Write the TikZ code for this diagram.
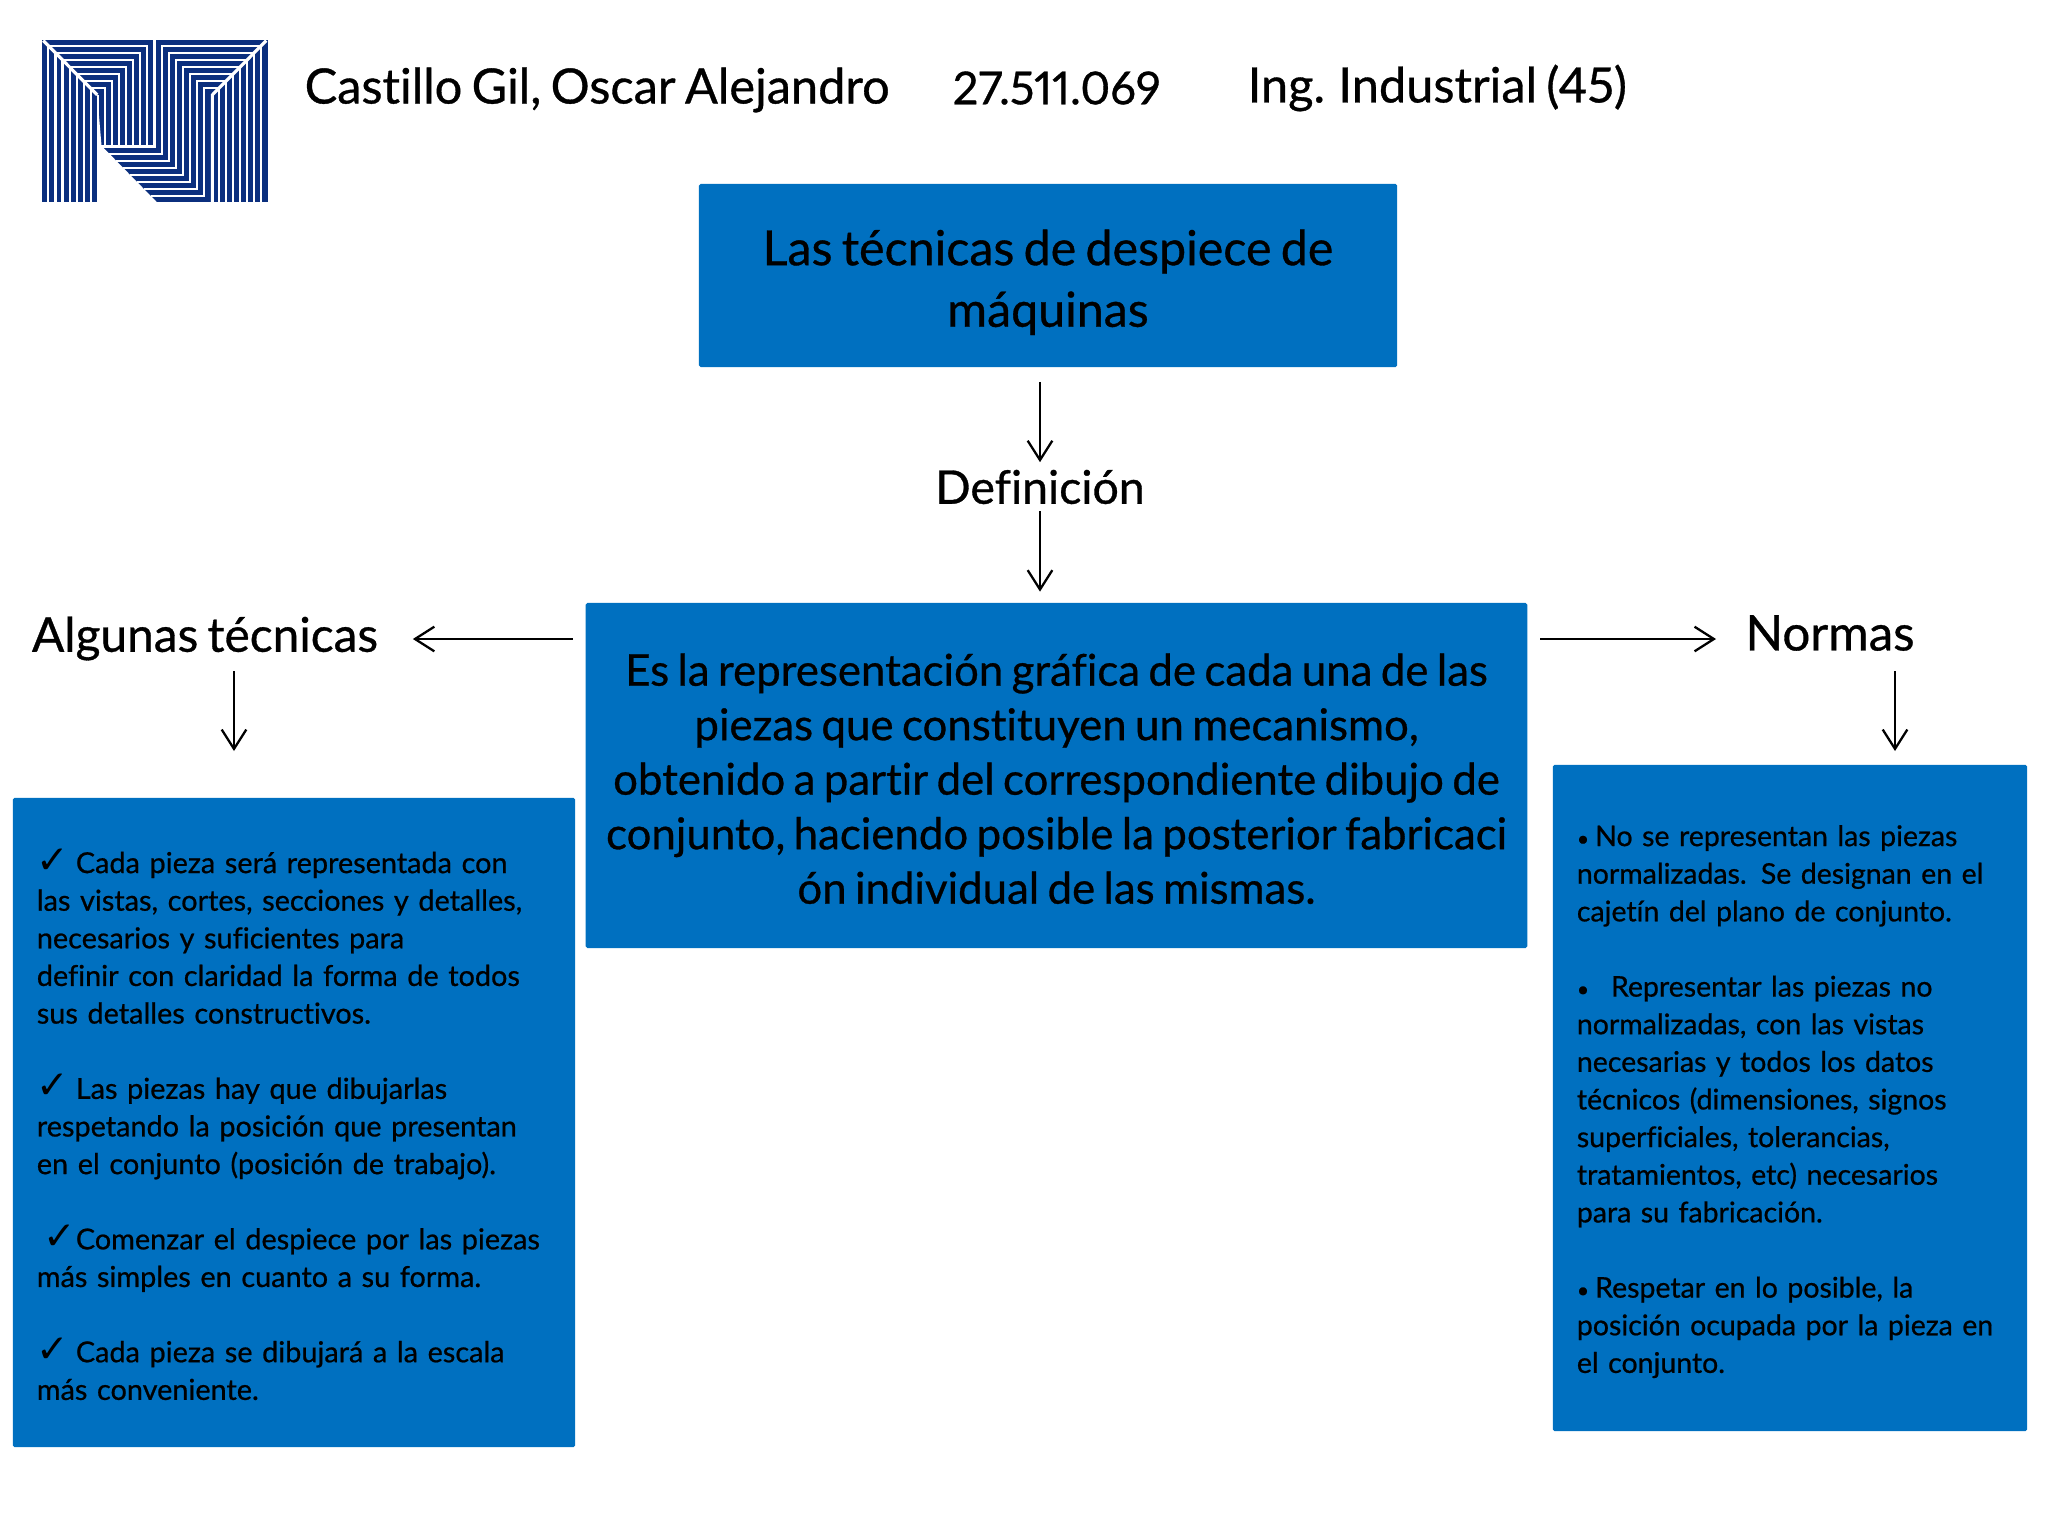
\documentclass[tikz,border=0pt]{standalone}
\usepackage{fontspec}
\setmainfont{Lato}[WordSpace=0.75,Ligatures=NoCommon,Numbers=Proportional,RawFeature={embolden=0.7}]
\newfontfamily\ckfont{DejaVu Sans}[Scale=1.35]
\newcommand{\ck}{{\ckfont\char"2713}}
\newcommand{\bu}[1]{\makebox[#1][l]{\fontsize{6}{6}\selectfont •}}
\usetikzlibrary{arrows.meta,positioning,calc}
\definecolor{boxblue}{HTML}{0070C0}
\definecolor{logoblue}{HTML}{0B2F7E}
\begin{document}
\begin{tikzpicture}[x=0.01cm,y=-0.01cm,>={Straight Barb[length=5.5pt,width=7pt]},
b/.style={fill=boxblue,draw=none,rounded corners=0.5pt,inner sep=0pt,align=center},
h/.style={font=\fontsize{13.85}{16}\selectfont,anchor=west,inner sep=0pt},
l/.style={font=\fontsize{13.6}{17}\selectfont,inner sep=0pt},
a/.style={->,line width=0.65pt},
s/.style={font=\fontsize{8.2}{10.7}\selectfont,align=left}]
\useasboundingbox (0,0) rectangle (2048,1536);
\begin{scope}[shift={(20,20)},x=0.003333cm,y=-0.003333cm]
\fill[logoblue] (66,60) rectangle (745,548);
\fill[white] (232,225)--(245,378)--(412,548)--(232,548)--cycle;
\fill[white] (232,225) rectangle (238,548);
\draw[white,line width=0.9pt] (70,62)--(232,225);
\draw[white,line width=0.9pt] (740,62)--(578,225)--(578,548);
\draw[white,line width=0.9pt] (404,60)--(404,380)--(240,380);
\foreach \i in {0,...,6}{
\draw[white,line width=0.65pt] ({85+21.5*\i},548)--({85+21.5*\i},{78+21*\i})--({382-21.2*\i},{78+21*\i})--({382-21.2*\i},378);
\draw[white,line width=0.65pt] ({725-21.3*\i},548)--({725-21.3*\i},{78+21*\i})--({426+21.3*\i},{78+21*\i})--({426+21.3*\i},{403+21*\i})--({268+21*\i},{403+21*\i});
}
\end{scope}
\node[h] (name) at (304,90) {Castillo Gil, Oscar Alejandro};
\node[h,font=\fontsize{12.9}{16}\selectfont] (dni) at (952,88) {27.511.069};
\node[h] (career) at (1247,88) {Ing. Industrial (45)};
\node[b,minimum width=6.98cm,minimum height=1.83cm,font=\fontsize{13.75}{17.5}\selectfont] (title) at (1048,275.5) {\rule{0pt}{14pt}Las técnicas de despiece de\\máquinas};
\node[l,font=\fontsize{13.2}{17}\selectfont] (def) at (1040,487) {Definición};
\node[b,minimum width=9.41cm,minimum height=3.45cm,font=\fontsize{12.45}{15.5}\selectfont] (main) at (1056.5,775.5) {\rule{0pt}{11pt}Es la representación gráfica de cada una de las\\piezas que constituyen un mecanismo,\\obtenido a partir del correspondiente dibujo de\\conjunto, haciendo posible la posterior fabricaci\\ón individual de las mismas.};
\node[l] (tec) at (205,638.5) {Algunas técnicas};
\node[l,font=\fontsize{14}{17}\selectfont] (nor) at (1830,633) {Normas};
\node[b,s,minimum width=5.62cm,minimum height=6.49cm,text width=5.14cm] (left) at (294,1122.5) {\rule{0pt}{8pt}\makebox[11.1pt][l]{\ck}Cada pieza será representada con\\las vistas, cortes, secciones y detalles,\\necesarios y suficientes para\\definir con claridad la forma de todos\\sus detalles constructivos.\\[10.7pt]\makebox[11.1pt][l]{\ck}Las piezas hay que dibujarlas\\respetando la posición que presentan\\en el conjunto (posición de trabajo).\\[10.7pt]\makebox[11.1pt][r]{\ck}Comenzar el despiece por las piezas\\más simples en cuanto a su forma.\\[10.7pt]\makebox[11.1pt][l]{\ck}Cada pieza se dibujará a la escala\\más conveniente.};
\node[b,s,font=\fontsize{8.1}{10.7}\selectfont,minimum width=4.74cm,minimum height=6.66cm,text width=4.26cm] (right) at (1790,1098) {\rule{0pt}{8pt}\bu{5.2pt}No se representan las piezas\\normalizadas. Se designan en el\\cajetín del plano de conjunto.\\[10.7pt]\bu{9.7pt}Representar las piezas no\\normalizadas, con las vistas\\necesarias y todos los datos\\técnicos (dimensiones, signos\\superficiales, tolerancias,\\tratamientos, etc) necesarios\\para su fabricación.\\[10.7pt]\bu{5.2pt}Respetar en lo posible, la\\posición ocupada por la pieza en\\el conjunto.};
\draw[a,shorten <=4pt,shorten >=2pt] (title.south -| def) -- (def.north);
\draw[a,shorten >=3pt] (def) ++(0,24) coordinate (d1) (d1) -- (d1 |- main.north);
\draw[a,shorten <=3.5pt,shorten >=9.7pt] (main.west |- 0,639) -- (tec.east |- 0,639);
\draw[a,shorten <=3.5pt] (main.east |- 0,639) -- (1716,639);
\draw[a] (234,671) -- (234,751);
\draw[a] (1895,671) -- (1895,751);
\end{tikzpicture}
\end{document}
